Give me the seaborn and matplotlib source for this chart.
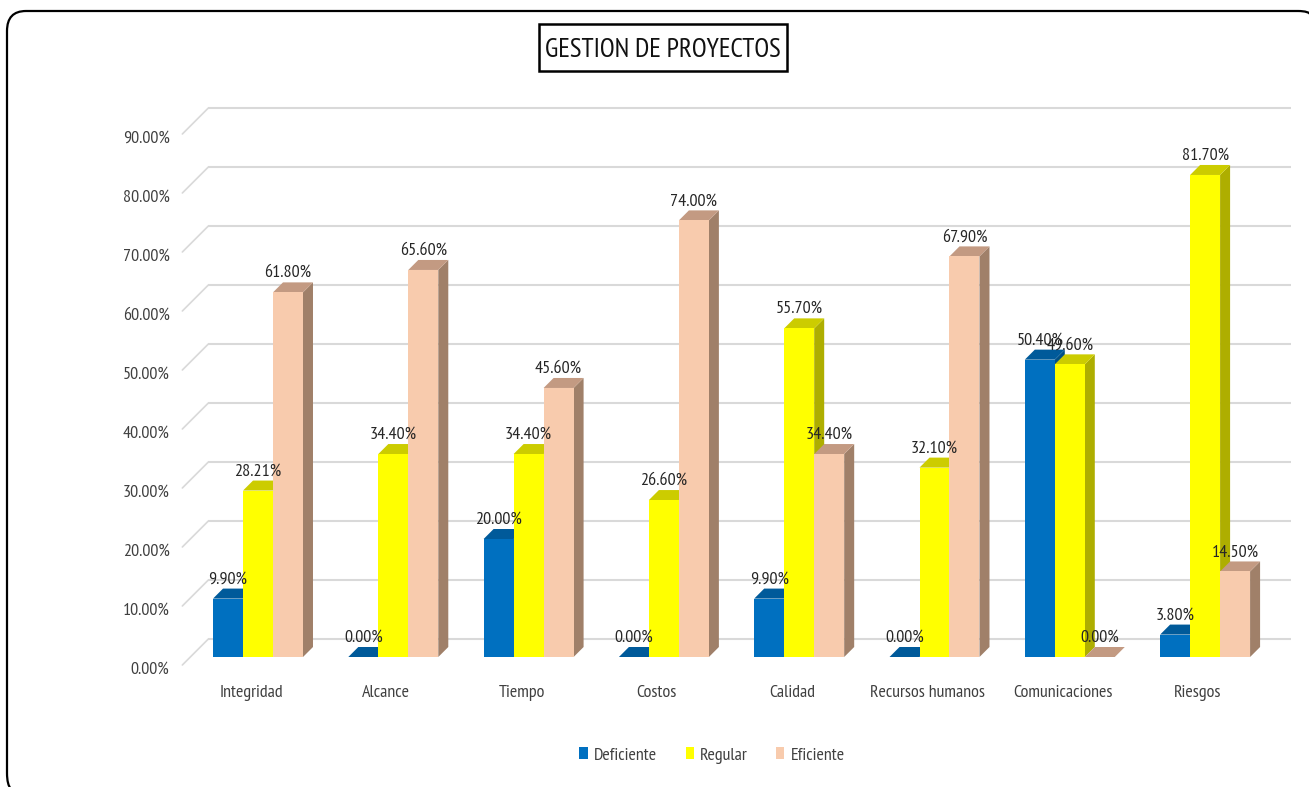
import matplotlib
matplotlib.use("Agg")
import matplotlib.pyplot as plt
import pandas as pd
import seaborn as sns
from matplotlib.patches import Polygon, Rectangle, PathPatch
from matplotlib.path import Path
from matplotlib.transforms import IdentityTransform, ScaledTranslation

categories = ["Integridad", "Alcance", "Tiempo", "Costos", "Calidad",
              "Recursos humanos", "Comunicaciones", "Riesgos"]
deficiente = [9.90, 0.00, 20.00, 0.00, 9.90, 0.00, 50.40, 3.80]
regular = [28.21, 34.40, 34.40, 26.60, 55.70, 32.10, 49.60, 81.70]
eficiente = [61.80, 65.60, 45.60, 74.00, 34.40, 67.90, 0.00, 14.50]
series_names = ["Deficiente", "Regular", "Eficiente"]
y_ticks = [0, 10, 20, 30, 40, 50, 60, 70, 80, 90]

front_colors = ["#0070C0", "#FFFF00", "#F8CBAD"]
top_colors = ["#005A9A", "#CCCC00", "#C39A82"]
side_colors = ["#004F86", "#AEAE00", "#A08069"]
GRID = "#D9D9D9"
TEXT = "#404040"
LABEL = "#262626"
FS = 13

sns.set_theme(style="white")
plt.rcParams["font.family"] = ["PT Sans Narrow", "Carlito", "Liberation Sans", "DejaVu Sans"]

W, H = 1309, 787
fig = plt.figure(figsize=(W / 100, H / 100), dpi=100, facecolor="white")
ax_left, ax_right, ax_base, ax_top = 190.35, 1272.75, 657, 126
ax = fig.add_axes([ax_left / W, (H - ax_base) / H,
                   (ax_right - ax_left) / W, (ax_base - ax_top) / H])

df = pd.DataFrame({
    "categoria": categories * 3,
    "serie": [s for s in series_names for _ in categories],
    "valor": deficiente + regular + eficiente,
})
sns.barplot(data=df, x="categoria", y="valor", hue="serie", hue_order=series_names,
            order=categories, palette=dict(zip(series_names, front_colors)),
            width=0.665, gap=0, saturation=1, linewidth=0, errorbar=None, ax=ax)
ax.set_xlim(-0.5, 7.5)
ax.set_ylim(0, 90)
ax.set_xlabel("")
ax.set_ylabel("")
ax.patch.set_alpha(0)
sns.despine(ax=ax, left=True, bottom=True)

# pixel size in data units, for the oblique depth
px_x = 8 / (ax_right - ax_left)
px_y = 90 / (ax_base - ax_top)

# back wall grid and left floor diagonals
for v in y_ticks:
    ax.plot([-0.5 + 18 * px_x, 7.5 + 18 * px_x], [v + 18 * px_y] * 2, color=GRID,
            lw=1.5, clip_on=False, zorder=0.5, solid_capstyle="butt")
    ax.plot([-0.5 - 8 * px_x, -0.5 + 18 * px_x], [v - 8 * px_y, v + 18 * px_y],
            color=GRID, lw=1.2, clip_on=False, zorder=0.5)

# oblique faces built from the bars seaborn drew
d = 10
for j, container in enumerate(ax.containers):
    for patch in container:
        x0, w, h = patch.get_x(), patch.get_width(), patch.get_height()
        x1 = x0 + w
        dx, dy = d * px_x, d * px_y
        z = 2 + j
        side = Polygon([(x1, 0), (x1 + dx, dy), (x1 + dx, h + dy), (x1, h)],
                       closed=True, facecolor=side_colors[j], edgecolor="none",
                       clip_on=False, zorder=z)
        top = Polygon([(x0, h), (x1, h), (x1 + dx, h + dy), (x0 + dx, h + dy)],
                      closed=True, facecolor=top_colors[j], edgecolor="none",
                      clip_on=False, zorder=z + 0.1)
        ax.add_patch(side)
        ax.add_patch(top)
        patch.set_zorder(z + 0.2)
    labels = ax.bar_label(container, labels=[f"{p.get_height():.2f}%" for p in container],
                          padding=8, fontsize=FS, color=LABEL)
    for t in labels:
        t.set_zorder(10)

# axis labels
ax.set_yticks(y_ticks, [f"{v:.2f}%" for v in y_ticks])
ax.tick_params(axis="y", length=0, pad=15, labelsize=FS, labelcolor=TEXT)
ax.tick_params(axis="x", length=0, pad=20.5, labelsize=FS, labelcolor=TEXT)
for lab in ax.get_yticklabels():
    lab.set_transform(lab.get_transform() + ScaledTranslation(0, -11 / 100, fig.dpi_scale_trans))
for lab in ax.get_xticklabels():
    lab.set_transform(lab.get_transform() + ScaledTranslation(-7 / 100, 0, fig.dpi_scale_trans))

# legend
handles, names = ax.get_legend_handles_labels()
ax.legend(handles, names, ncol=3, loc="center",
          bbox_to_anchor=(712 / W, (H - 755.5) / H), bbox_transform=fig.transFigure,
          frameon=False, fontsize=FS, labelcolor=TEXT, handlelength=0.45,
          handleheight=0.65, handletextpad=0.33, columnspacing=1.6,
          borderpad=0, borderaxespad=0)

# outer rounded frame (only its top and left sides fall inside the picture)
frame = Path([(1311, H - 15), (1309, H - 11), (1298, H - 11), (26, H - 11), (7, H - 11),
              (7, H - 31), (7, H - 773), (7, H - 785), (11, H - 789)],
             [Path.MOVETO, Path.CURVE3, Path.CURVE3, Path.LINETO, Path.CURVE3, Path.CURVE3,
              Path.LINETO, Path.CURVE3, Path.CURVE3])
fig.add_artist(PathPatch(frame, facecolor="none", edgecolor="black", linewidth=1.6,
                         transform=IdentityTransform(), zorder=0))
# title box
fig.add_artist(Rectangle((538.5, H - 71), 248.5, 47, facecolor="white", edgecolor="black",
                         linewidth=1.8, transform=IdentityTransform()))
fig.text(662.5 / W, (H - 50) / H, "GESTION DE PROYECTOS", ha="center", va="center",
         fontsize=19.5, color="#111111")

fig.savefig("out.png", dpi=100)
